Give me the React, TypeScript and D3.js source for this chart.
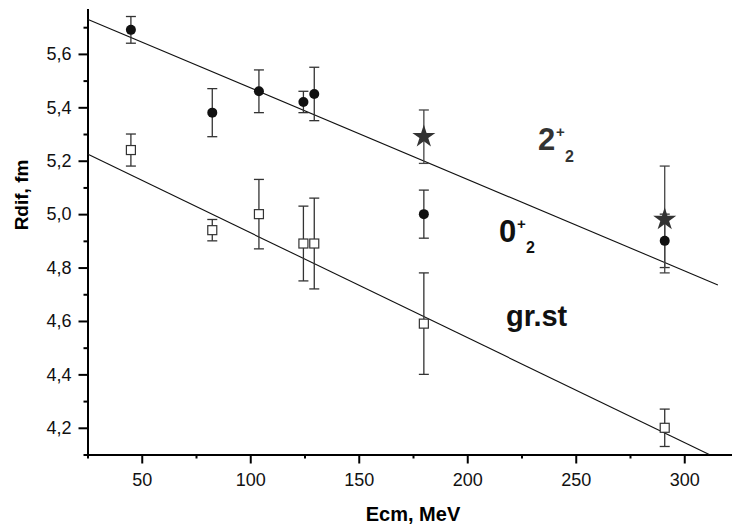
import { useEffect, useRef } from 'react';
import * as d3 from 'd3';

const width = 732;
const height = 530;

// beam energies (Ecm, MeV)
const energies = [45, 82.5, 104, 124.5, 129.5, 180, 291];

// ground state radii and errors
const grState = [5.24, 4.94, 5.0, 4.89, 4.89, 4.59, 4.2];
const grErr = [0.06, 0.04, 0.13, 0.14, 0.17, 0.19, 0.07];

// 0+2 state
const zeroPlus = [5.69, 5.38, 5.46, 5.42, 5.45, 5.0, 4.9];
const zeroErr = [0.05, 0.09, 0.08, 0.04, 0.1, 0.09, 0.1];

// 2+2 state (only two energies)
const twoPlusE = [180, 291];
const twoPlus = [5.29, 4.98];
const twoErr = [0.1, 0.2];

// linear fit lines (end points)
const fitZeroE = [25, 315.5];
const fitZero = [5.73, 4.735];
const fitGrE = [25, 311.5];
const fitGr = [5.225, 4.1];

const xMajor = [50, 100, 150, 200, 250, 300];
const xMinor = [25, 75, 125, 175, 225, 275, 325];
const yMajor = [4.2, 4.4, 4.6, 4.8, 5.0, 5.2, 5.4, 5.6];
const yMinor = [4.1, 4.3, 4.5, 4.7, 4.9, 5.1, 5.3, 5.5, 5.7];

const font = "'Liberation Sans', Arial, sans-serif";

export default function App() {
    const ref = useRef<SVGSVGElement>(null);

    useEffect(() => {
        const svg = d3.select(ref.current);
        svg.selectAll('*').remove();

        const x = d3.scaleLinear().domain([25, 325]).range([87.5, 738.5]);
        const y = d3.scaleLinear().domain([4.1, 5.77]).range([454.5, 8.5]);
        const fmt = (d: number) => d.toFixed(1).replace('.', ',');

        // minor ticks first
        svg.append('g')
            .attr('transform', 'translate(0,454.5)')
            .call(d3.axisBottom(x).tickValues(xMinor).tickSize(4).tickFormat(() => ''))
            .call(g => g.select('.domain').remove());
        svg.append('g')
            .attr('transform', 'translate(87.5,0)')
            .call(d3.axisLeft(y).tickValues(yMinor).tickSize(4).tickFormat(() => ''))
            .call(g => g.select('.domain').remove());

        const xAxis = svg.append('g')
            .attr('transform', 'translate(0,454.5)')
            .call(d3.axisBottom(x).tickValues(xMajor).tickSize(9).tickSizeOuter(0).tickPadding(10));
        const yAxis = svg.append('g')
            .attr('transform', 'translate(87.5,0)')
            .call(d3.axisLeft(y).tickValues(yMajor).tickSize(9).tickSizeOuter(0).tickPadding(7).tickFormat(d => fmt(+d)));

        for (const ax of [xAxis, yAxis]) {
            ax.selectAll('text').style('font-family', font).style('font-size', '18px').attr('fill', '#111');
            ax.select('.domain').attr('stroke', '#000').attr('stroke-width', 2);
        }
        svg.selectAll('.tick line').attr('stroke', '#000').attr('stroke-width', 2);

        // axis titles
        svg.append('text')
            .attr('x', 413).attr('y', 521)
            .attr('text-anchor', 'middle')
            .style('font-family', font).style('font-size', '20px').style('font-weight', 'bold')
            .text('Ecm, MeV');
        svg.append('text')
            .attr('transform', 'translate(28,195) rotate(-90)')
            .attr('text-anchor', 'middle')
            .style('font-family', font).style('font-size', '19px').style('font-weight', 'bold')
            .text('Rdif, fm');

        // fit lines
        const line = d3.line<[number, number]>().x(d => x(d[0])).y(d => y(d[1]));
        svg.append('path')
            .attr('d', line(fitZeroE.map((e, i) => [e, fitZero[i]])))
            .attr('stroke', '#111').attr('stroke-width', 1.1).attr('fill', 'none');
        svg.append('path')
            .attr('d', line(fitGrE.map((e, i) => [e, fitGr[i]])))
            .attr('stroke', '#111').attr('stroke-width', 1.1).attr('fill', 'none');

        function errorBars(es: number[], vs: number[], errs: number[], color: string) {
            const g = svg.append('g').attr('stroke', color).attr('stroke-width', 1.3);
            es.forEach((e, i) => {
                const cx = x(e);
                const top = y(vs[i] + errs[i]);
                const bot = y(vs[i] - errs[i]);
                g.append('line').attr('x1', cx).attr('x2', cx).attr('y1', top).attr('y2', bot);
                g.append('line').attr('x1', cx - 5).attr('x2', cx + 5).attr('y1', top).attr('y2', top);
                g.append('line').attr('x1', cx - 5).attr('x2', cx + 5).attr('y1', bot).attr('y2', bot);
            });
        }

        errorBars(energies, grState, grErr, '#333');
        errorBars(energies, zeroPlus, zeroErr, '#333');
        errorBars(twoPlusE, twoPlus, twoErr, '#444');

        // ground state: open squares
        svg.append('g').selectAll('rect')
            .data(energies)
            .enter()
            .append('rect')
            .attr('x', (d) => x(d) - 4.5)
            .attr('y', (d, i) => y(grState[i]) - 4.5)
            .attr('width', 9).attr('height', 9)
            .attr('fill', '#fff').attr('stroke', '#333').attr('stroke-width', 1.2);

        // 0+2: filled circles
        svg.append('g').selectAll('circle')
            .data(energies)
            .enter()
            .append('circle')
            .attr('cx', (d) => x(d))
            .attr('cy', (d, i) => y(zeroPlus[i]))
            .attr('r', 5)
            .attr('fill', '#111');

        // 2+2: stars
        const star = d3.symbol().type(d3.symbolStar).size(165);
        svg.append('g').selectAll('path')
            .data(twoPlusE)
            .enter()
            .append('path')
            .attr('d', star)
            .attr('transform', (d, i) => `translate(${x(d)},${y(twoPlus[i])})`)
            .attr('fill', '#333');

        // state labels
        const label = (tx: number, ty: number, txt: string, size: number, color: string) =>
            svg.append('text')
                .attr('x', tx).attr('y', ty)
                .style('font-family', font).style('font-size', size + 'px').style('font-weight', 'bold')
                .attr('fill', color)
                .text(txt);

        label(538, 150, '2', 31, '#333');
        label(556, 137, '+', 15, '#333');
        label(565, 162, '2', 16, '#333');

        label(499, 242, '0', 31, '#111');
        label(517, 229, '+', 15, '#111');
        label(526, 253, '2', 16, '#111');

        label(506, 326, 'gr.st', 29, '#111');
    }, []);

    return (
        <svg ref={ref} width={width} height={height}
             style={{ position: 'absolute', left: 0, top: 0, background: '#fff' }} />
    );
}
